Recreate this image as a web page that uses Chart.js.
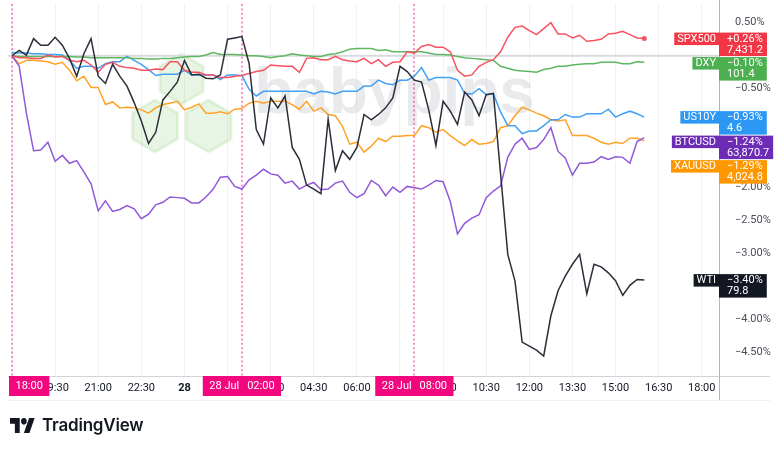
<!DOCTYPE html>
<html>
<head>
<meta charset="utf-8">
<script src="https://cdn.jsdelivr.net/npm/chart.js@4.4.1/dist/chart.umd.min.js"></script>
<style>
  html, body { margin: 0; padding: 0; background: #fff; }
  #wrap { position: relative; width: 780px; height: 451px; overflow: hidden; }
  canvas { display: block; }
  #logo { position: absolute; left: 10px; top: 418px; }
  #brand { position: absolute; left: 42px; top: 415px; line-height: 20px; font-family: Inter, Roboto, sans-serif; font-weight: 600; font-size: 17px; color: #131722; letter-spacing: -0.2px; }
</style>
</head>
<body>
<div id="wrap">
  <canvas id="c" width="780" height="451"></canvas>
  <svg id="logo" width="25" height="15" viewBox="0 4 36 18" preserveAspectRatio="none"><path fill="#131722" d="M14 22H7V11H0V4h14v18zM28 22h-8l7.5-18h8L28 22z"/><circle fill="#131722" cx="20" cy="8" r="4"/></svg>
  <div id="brand">TradingView</div>
</div>
<script>
// % change vs 27 Jul 18:00, one point every 15 minutes up to 28 Jul 16:00
var wti = [0,0.08,0.01,0.26,0.16,0.16,0.28,0.16,-0.04,-0.31,
  0.03,0.26,-0.31,-0.42,-0.13,-0.31,-0.46,-0.71,-0.99,-1.33,
  -1.16,-0.67,-0.54,-0.40,-0.07,-0.29,-0.28,-0.34,-0.35,-0.29,
  0.25,0.27,0.29,-0.12,-1.12,-1.34,-0.64,-0.79,-0.61,-1.39,
  -1.57,-1.96,-2.02,-2.09,-0.96,-1.74,-1.44,-1.57,-1.39,-0.89,
  -0.97,-0.89,-0.79,-0.64,-0.16,-0.24,-0.37,-0.40,-0.82,-1.36,
  -0.69,-0.84,-1.04,-0.55,-0.67,-0.91,-0.59,-0.57,-1.79,-3.01,
  -3.41,-4.34,-4.40,-4.46,-4.55,-3.94,-3.56,-3.34,-3.16,-3.01,
  -3.61,-3.16,-3.20,-3.29,-3.41,-3.63,-3.48,-3.39,-3.40]

var spx = [0,-0.03,-0.03,-0.04,-0.04,0.01,-0.02,-0.01,-0.07,-0.09,
  -0.07,-0.14,-0.25,-0.13,-0.10,-0.16,-0.18,-0.19,-0.22,-0.22,
  -0.20,-0.21,-0.09,-0.09,-0.22,-0.25,-0.25,-0.29,-0.29,-0.33,
  -0.33,-0.31,-0.30,-0.27,-0.24,-0.22,-0.14,-0.15,-0.16,-0.16,
  -0.25,-0.04,-0.03,-0.06,-0.06,-0.01,-0.06,-0.08,-0.09,-0.04,
  -0.12,-0.06,-0.16,-0.10,-0.09,0.06,0.04,0.14,0.17,0.13,
  0.13,0.06,-0.22,-0.31,-0.29,-0.16,-0.10,-0.06,0.06,0.28,
  0.43,0.45,0.38,0.32,0.41,0.50,0.33,0.33,0.27,0.31,
  0.22,0.23,0.25,0.33,0.34,0.37,0.32,0.27,0.26]

var dxy = [0,-0.01,-0.01,-0.01,-0.01,-0.01,-0.01,-0.01,-0.01,-0.02,
  -0.02,-0.03,-0.03,-0.03,-0.03,-0.03,-0.03,-0.04,-0.04,-0.05,
  -0.05,-0.04,-0.04,-0.03,-0.02,-0.01,-0.01,0.01,0.05,0.02,
  0.02,0.02,0.01,0.00,0.00,-0.01,-0.03,-0.01,0.00,0.03,
  0.01,0.00,-0.01,-0.01,0.02,0.03,0.06,0.10,0.11,0.11,
  0.11,0.08,0.09,0.06,0.06,0.06,0.06,0.06,0.04,0.02,
  0.02,0.01,-0.01,-0.03,-0.04,-0.05,-0.06,-0.07,-0.16,-0.19,
  -0.22,-0.23,-0.24,-0.25,-0.21,-0.19,-0.16,-0.16,-0.14,-0.13,
  -0.12,-0.12,-0.10,-0.10,-0.10,-0.12,-0.12,-0.09,-0.10]

var us10y = [0.05,0.04,0.04,0.03,0.03,0.02,0.02,0.01,-0.07,-0.19,
  -0.16,-0.16,-0.19,-0.12,-0.09,-0.09,-0.01,-0.07,-0.13,-0.21,
  -0.30,-0.28,-0.28,-0.28,-0.22,-0.29,-0.29,-0.29,-0.29,-0.36,
  -0.29,-0.29,-0.30,-0.51,-0.61,-0.54,-0.54,-0.54,-0.54,-0.54,
  -0.54,-0.54,-0.58,-0.54,-0.55,-0.58,-0.54,-0.54,-0.54,-0.46,
  -0.46,-0.37,-0.42,-0.44,-0.37,-0.37,-0.31,-0.18,-0.37,-0.33,
  -0.33,-0.33,-0.37,-0.57,-0.58,-0.50,-0.59,-0.58,-0.85,-1.06,
  -1.06,-1.18,-1.14,-1.14,-1.06,-0.97,-0.97,-0.89,-0.93,-0.93,
  -0.88,-0.88,-0.88,-0.81,-0.93,-0.88,-0.84,-0.88,-0.93]

var btc = [0,-0.16,-0.87,-1.44,-1.43,-1.31,-1.60,-1.51,-1.63,-1.59,
  -1.76,-1.94,-2.35,-2.20,-2.36,-2.33,-2.27,-2.32,-2.47,-2.40,
  -2.26,-2.22,-2.14,-2.15,-2.16,-2.23,-2.23,-2.14,-2.02,-1.84,
  -1.83,-1.98,-2.02,-1.88,-1.81,-1.72,-1.79,-1.81,-1.93,-1.90,
  -2.02,-1.96,-1.92,-2.03,-2.02,-1.93,-1.90,-2.07,-2.15,-2.09,
  -1.89,-1.96,-2.12,-1.99,-2.07,-1.98,-2.00,-2.02,-1.96,-1.89,
  -1.91,-2.21,-2.70,-2.54,-2.46,-2.41,-2.15,-2.05,-1.97,-1.54,
  -1.34,-1.25,-1.42,-1.39,-1.27,-1.09,-1.45,-1.55,-1.81,-1.63,
  -1.63,-1.61,-1.53,-1.57,-1.53,-1.54,-1.63,-1.30,-1.24]

var xau = [0,-0.12,-0.07,-0.07,-0.08,-0.09,-0.13,-0.10,-0.22,-0.38,
  -0.31,-0.48,-0.48,-0.74,-0.70,-0.79,-0.78,-0.79,-0.82,-0.87,
  -0.79,-0.74,-0.72,-0.69,-0.82,-0.78,-0.73,-0.87,-0.87,-0.85,
  -0.88,-0.81,-0.80,-0.72,-0.69,-0.72,-0.69,-0.69,-0.69,-0.74,
  -0.81,-0.69,-0.84,-0.79,-0.89,-0.91,-1.07,-1.34,-1.31,-1.46,
  -1.37,-1.25,-1.30,-1.22,-1.22,-1.21,-1.21,-1.06,-1.09,-1.16,
  -1.12,-1.21,-1.29,-1.36,-1.27,-1.34,-1.33,-1.30,-1.09,-1.06,
  -0.91,-0.78,-0.82,-0.87,-0.91,-0.97,-0.99,-0.97,-1.21,-1.21,
  -1.21,-1.25,-1.31,-1.34,-1.31,-1.33,-1.25,-1.25,-1.29]

var seriesNames = ['WTI', 'SPX500', 'DXY', 'US10Y', 'BTCUSD', 'XAUUSD']
var seriesValues = [wti, spx, dxy, us10y, btc, xau]
var lastPrices = ['79.8', '7,431.2', '101.4', '4.6', '63,870.7', '4,024.8']
var lineColors = ['#2a2e39', '#f7525f', '#5fb760', '#42a0f5', '#9159d8', '#ffa228']
var boxColors = ['#131722', '#f23645', '#4caf50', '#2d97f4', '#6c2cb5', '#ff9800']

// hours counted from 27 Jul 00:00
var xTickHours = [18, 19.5, 21, 22.5, 24, 25.5, 27, 28.5, 30, 31.5, 33, 34.5, 36, 37.5, 39, 40.5, 42]
var xTickLabels = ['', '19:30', '21:00', '22:30', '28', '', '03:00', '04:30', '06:00', '', '09:00', '10:30', '12:00', '13:30', '15:00', '16:30', '18:00']
var yTickValues = [0.5, -0.5, -2, -2.5, -3, -4, -4.5]

var sessionHours = [18, 26, 32]
var sessionDays = ['', '28 Jul', '28 Jul']
var sessionTimes = ['18:00', '02:00', '08:00']

var FONT = 'Roboto, "Noto Sans", sans-serif'

function fmtPct(v, signed) {
    var s = Math.abs(v).toFixed(2) + '%'
    if (v < 0) return '\u2212' + s
    return (signed ? '+' : '') + s
}

function hexagon(ctx, cx, cy, r) {
    ctx.beginPath()
    for (var k = 0; k < 6; k++) {
        var a = Math.PI / 3 * k - Math.PI / 2
        var px = cx + r * Math.cos(a), py = cy + r * Math.sin(a)
        if (k == 0) ctx.moveTo(px, py); else ctx.lineTo(px, py)
    }
    ctx.closePath()
    ctx.fill()
    ctx.stroke()
}

var overlay = {
    id: 'overlay',
    beforeDatasetsDraw(chart) {
        var ctx = chart.ctx, a = chart.chartArea, x = chart.scales.x, y = chart.scales.y
        ctx.save()

        // babypips watermark
        ctx.fillStyle = 'rgba(120, 195, 95, 0.17)'
        ctx.strokeStyle = 'rgba(120, 195, 95, 0.17)'
        ctx.lineWidth = 3
        ctx.lineJoin = 'round'
        hexagon(ctx, 181.5, 79, 25)
        hexagon(ctx, 155, 126, 26)
        hexagon(ctx, 208.5, 126, 26)
        ctx.font = 'bold 64px "Liberation Sans", Arial, sans-serif'
        ctx.fillStyle = 'rgba(110, 115, 125, 0.15)'
        ctx.textBaseline = 'alphabetic'
        ctx.fillText('babypips', 254, 113)

        // zero line
        var y0 = y.getPixelForValue(0)
        ctx.strokeStyle = '#d8dae0'
        ctx.lineWidth = 2
        ctx.beginPath()
        ctx.moveTo(a.left, y0)
        ctx.lineTo(a.right, y0)
        ctx.stroke()

        // session breaks
        ctx.setLineDash([2, 2.4])
        ctx.lineWidth = 2
        ctx.strokeStyle = 'rgba(245, 70, 165, 0.6)'
        sessionHours.forEach(function (h) {
            var px = Math.round(x.getPixelForValue(h))
            ctx.beginPath()
            ctx.moveTo(px, a.top)
            ctx.lineTo(px, a.bottom)
            ctx.stroke()
        })
        ctx.restore()
    },
    afterDraw(chart) {
        var ctx = chart.ctx, a = chart.chartArea, x = chart.scales.x, y = chart.scales.y
        ctx.save()

        // axis borders
        ctx.lineWidth = 1
        ctx.strokeStyle = '#d1d4dc'
        ctx.beginPath()
        ctx.moveTo(a.left, a.bottom + 0.5)
        ctx.lineTo(770, a.bottom + 0.5)
        ctx.stroke()
        ctx.strokeStyle = '#b2b5be'
        ctx.beginPath()
        ctx.moveTo(a.right + 0.5, 0)
        ctx.lineTo(a.right + 0.5, 400)
        ctx.stroke()
        ctx.strokeStyle = '#eef0f3'
        ctx.beginPath()
        ctx.moveTo(a.left, 400.5)
        ctx.lineTo(770, 400.5)
        ctx.stroke()

        // session labels on the time axis
        ctx.font = '11px ' + FONT
        ctx.textBaseline = 'middle'
        sessionHours.forEach(function (h, i) {
            var px = x.getPixelForValue(h)
            var day = sessionDays[i], time = sessionTimes[i]
            var gap = day ? 8 : 0
            var dw = ctx.measureText(day).width, tw = ctx.measureText(time).width
            var w = dw + gap + tw + 13
            var left = Math.max(a.left + 1, px - w / 2)
            ctx.fillStyle = '#f2077f'
            ctx.fillRect(left, a.bottom, w, 20)
            ctx.fillStyle = '#ffffff'
            ctx.textAlign = 'left'
            if (day) ctx.fillText(day, left + 6.5, a.bottom + 10.5)
            ctx.fillText(time, left + 6.5 + dw + gap, a.bottom + 10.5)
        })

        // last value labels on the price axis
        var items = seriesNames.map(function (name, i) {
            var vals = seriesValues[i]
            var last = vals[vals.length - 1]
            return { name: name, last: last, price: lastPrices[i], color: boxColors[i], py: y.getPixelForValue(last) }
        }).sort(function (p, q) { return p.py - q.py })

        var prevBottom = -100
        items.forEach(function (it) {
            var top = it.py - 6
            if (top < prevBottom + 1) top = prevBottom + 1
            var change = fmtPct(it.last, true)
            var vw = Math.max(ctx.measureText(change).width, ctx.measureText(it.price).width) + 12
            ctx.fillStyle = it.color
            ctx.fillRect(a.right, top, vw, 23.5)
            var nw = ctx.measureText(it.name).width + 6
            ctx.fillRect(a.right - nw, top, nw, 12.5)
            ctx.fillStyle = '#ffffff'
            ctx.textAlign = 'left'
            ctx.fillText(change, a.right + 8, top + 6.5)
            ctx.fillText(it.price, a.right + 8, top + 17.5)
            ctx.fillText(it.name, a.right - nw + 3, top + 6.5)
            prevBottom = top + 23.5
        })
        ctx.restore()
    }
}

var times = wti.map(function (_, i) { return 18 + i * 0.25 })

var datasets = seriesNames.map(function (name, i) {
    var vals = seriesValues[i]
    return {
        label: name,
        data: vals.map(function (v, j) { return { x: times[j], y: v } }),
        borderColor: lineColors[i],
        backgroundColor: lineColors[i],
        borderWidth: 1.5,
        pointRadius: name == 'SPX500' ? vals.map(function (_, j) { return j == vals.length - 1 ? 2.5 : 0 }) : 0,
        pointBorderWidth: 0,
        tension: 0,
        fill: false
    }
})

new Chart(document.getElementById('c'), {
    type: 'line',
    data: { datasets: datasets },
    options: {
        responsive: false,
        animation: false,
        layout: { padding: { left: 8, top: 0, right: 0, bottom: 0 } },
        plugins: { legend: { display: false }, tooltip: { enabled: false } },
        scales: {
            x: {
                type: 'linear',
                min: 17.86,
                max: 42.6,
                afterFit: function (s) { s.height = 75; s.paddingLeft = 0; s.paddingRight = 0 },
                afterBuildTicks: function (s) { s.ticks = xTickHours.map(function (v) { return { value: v } }) },
                grid: { color: '#f0f2f6', drawTicks: false },
                border: { display: false },
                ticks: {
                    padding: 6,
                    maxRotation: 0,
                    autoSkip: false,
                    color: '#131722',
                    font: function (c) { return { family: FONT, size: 11, weight: c.tick && c.tick.value == 24 ? 'bold' : 'normal' } },
                    callback: function (v, i) { return xTickLabels[i] }
                }
            },
            y: {
                position: 'right',
                min: -4.853,
                max: 0.784,
                afterFit: function (s) { s.width = 61; s.paddingTop = 0; s.paddingBottom = 0 },
                afterBuildTicks: function (s) { s.ticks = yTickValues.map(function (v) { return { value: v } }) },
                grid: { display: false },
                border: { display: false },
                ticks: {
                    padding: 8,
                    crossAlign: 'near',
                    color: '#4a4e59',
                    font: { family: FONT, size: 11 },
                    callback: function (v) { return fmtPct(v, false) }
                }
            }
        }
    },
    plugins: [overlay]
});
</script>
</body>
</html>
